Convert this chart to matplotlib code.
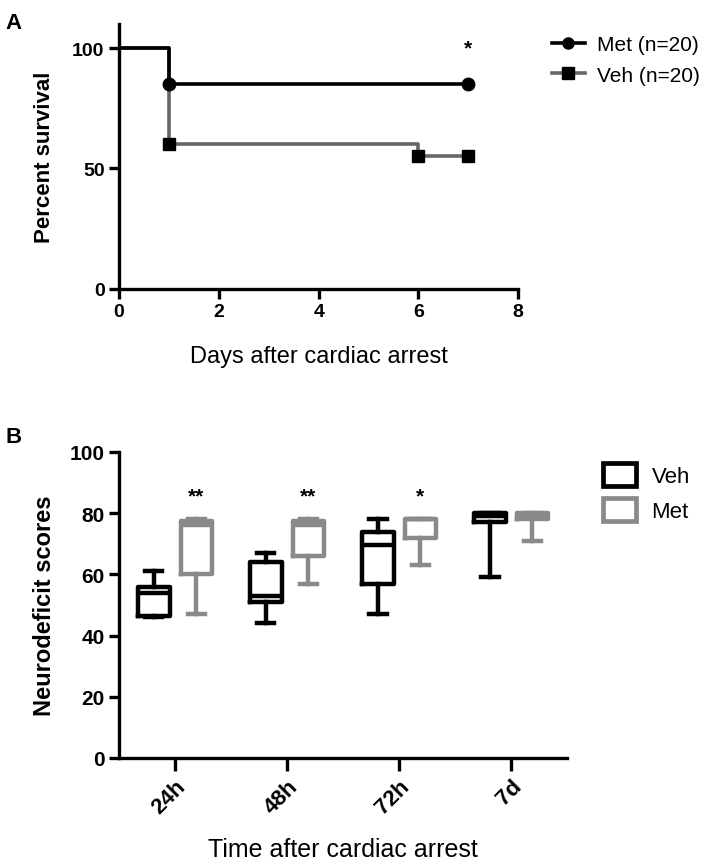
import numpy as np
import matplotlib
matplotlib.use('Agg')
import matplotlib.pyplot as plt
from matplotlib.lines import Line2D
from matplotlib.patches import Rectangle

plt.rcParams['font.family'] = ['Liberation Sans', 'DejaVu Sans']

# Panel A: survival
met_days = [0, 1, 7]
met_surv = [100, 85, 85]
veh_days = [0, 1, 6, 7]
veh_surv = [100, 60, 55, 55]
met_marks_x = [1, 7]
met_marks_y = [85, 85]
veh_marks_x = [1, 6, 7]
veh_marks_y = [60, 55, 55]

# Panel B: neurodeficit scores (box stats)
times = ['24h', '48h', '72h', '7d']
veh_min = [46, 44, 47, 59]
veh_q1 = [46.5, 51, 57, 77]
veh_med = [54, 53, 69.5, 79]
veh_q3 = [56, 64, 74, 80]
veh_max = [61, 67, 78, 80]
met_min = [47, 57, 63, 71]
met_q1 = [60, 66, 72, 78]
met_med = [76, 76, 78, 79]
met_q3 = [77.5, 77.5, 78, 80]
met_max = [78, 78, 78, 80]
sig_marks = ['**', '**', '*', '']

GRAY = '#8a8a8a'
DGRAY = '#666666'
LW = 2.6

fig = plt.figure(figsize=(7.09, 8.62), dpi=100)

# ---------------- A ----------------
ax = fig.add_axes([0.168, 0.664, 0.563, 0.307])
ax.step(veh_days, veh_surv, where='post', color=DGRAY, lw=LW, zorder=2)
ax.plot(veh_marks_x, veh_marks_y, 's', color='black', ms=9, zorder=3)
ax.step(met_days, met_surv, where='post', color='black', lw=LW, zorder=4)
ax.plot(met_marks_x, met_marks_y, 'o', color='black', ms=9, zorder=5)
ax.text(7, 100, '*', ha='center', va='center', fontsize=15, fontweight='bold')
ax.set_xlim(0, 8)
ax.set_ylim(0, 110)
ax.set_xticks([0, 2, 4, 6, 8])
ax.set_yticks([0, 50, 100])
for s in ['top', 'right']:
    ax.spines[s].set_visible(False)
for s in ['left', 'bottom']:
    ax.spines[s].set_linewidth(2.4)
ax.tick_params(width=2.4, length=7, labelsize=14)
for lab in ax.get_xticklabels() + ax.get_yticklabels():
    lab.set_fontweight('bold')
ax.set_xlabel('Days after cardiac arrest', fontsize=17, labelpad=18)
ax.set_ylabel('Percent survival', fontsize=16, fontweight='bold', labelpad=12)

handles = [
    Line2D([], [], color='black', lw=LW, marker='o', ms=8),
    Line2D([], [], color=DGRAY, lw=LW, marker='s', ms=8, mfc='black', mec='black'),
]
fig.legend(handles, ['Met (n=20)', 'Veh (n=20)'], loc='upper left',
           bbox_to_anchor=(0.778, 0.958), frameon=False, fontsize=15,
           handlelength=1.6, handletextpad=0.6, labelspacing=0.55,
           borderaxespad=0, borderpad=0)

fig.text(0.008, 0.985, 'A', fontsize=16, fontweight='bold', va='top')

# ---------------- B ----------------
bx = fig.add_axes([0.168, 0.1195, 0.632, 0.355])
pos = np.arange(1, len(times) + 1)
off = 0.19
width = 0.28

veh_stats = [dict(med=m, q1=a, q3=b, whislo=lo, whishi=hi, fliers=[])
             for m, a, b, lo, hi in zip(veh_med, veh_q1, veh_q3, veh_min, veh_max)]
met_stats = [dict(med=m, q1=a, q3=b, whislo=lo, whishi=hi, fliers=[])
             for m, a, b, lo, hi in zip(met_med, met_q1, met_q3, met_min, met_max)]

for stats, p, col in [(veh_stats, pos - off, 'black'), (met_stats, pos + off, GRAY)]:
    props = dict(color=col, linewidth=3.2)
    bx.bxp(stats, positions=p, widths=width, showfliers=False,
           boxprops=props, whiskerprops=props, capprops=props,
           medianprops=dict(color=col, linewidth=3.2),
           capwidths=width * 0.55, manage_ticks=False)

for p, s in zip(pos + off, sig_marks):
    if s:
        bx.text(p, 85.5, s, ha='center', va='center', fontsize=15, fontweight='bold')

bx.set_xlim(0.5, 4.5)
bx.set_ylim(0, 100)
bx.set_xticks(pos)
bx.set_xticklabels(times, rotation=45, ha='right', rotation_mode='anchor')
bx.set_yticks([0, 20, 40, 60, 80, 100])
for s in ['top', 'right']:
    bx.spines[s].set_visible(False)
for s in ['left', 'bottom']:
    bx.spines[s].set_linewidth(2.4)
bx.tick_params(width=2.4, length=7, labelsize=15)
bx.tick_params(axis='x', length=9, labelsize=16)
for lab in bx.get_xticklabels() + bx.get_yticklabels():
    lab.set_fontweight('bold')
bx.set_xlabel('Time after cardiac arrest', fontsize=18, labelpad=14)
bx.set_ylabel('Neurodeficit scores', fontsize=17, fontweight='bold', labelpad=10)

box_handles = [
    Rectangle((0, 0), 1, 1, facecolor='none', edgecolor='black', lw=3.4),
    Rectangle((0, 0), 1, 1, facecolor='none', edgecolor=GRAY, lw=3.4),
]
fig.legend(box_handles, ['Veh', 'Met'], loc='upper left',
           bbox_to_anchor=(0.85, 0.462), frameon=False, fontsize=16,
           handlelength=1.5, handleheight=1.2, handletextpad=0.7,
           labelspacing=0.5, borderaxespad=0, borderpad=0)

fig.text(0.008, 0.505, 'B', fontsize=16, fontweight='bold', va='top')

fig.savefig('out.png', dpi=100)
